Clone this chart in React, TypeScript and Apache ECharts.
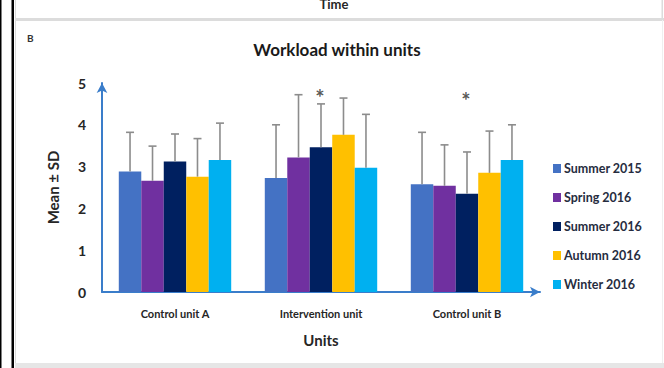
import React, { useEffect, useRef } from "react";
import * as echarts from "echarts";

// Units compared and the survey rounds
const units = ["Control unit A", "Intervention unit", "Control unit B"];
const rounds = ["Summer 2015", "Spring 2016", "Summer 2016", "Autumn 2016", "Winter 2016"];
const roundColors = ["#4472C4", "#7030A0", "#002060", "#FFC000", "#00B0F0"];

// Mean workload per round, one value per unit
const summer2015Mean = [2.88, 2.73, 2.58];
const spring2016Mean = [2.66, 3.22, 2.54];
const summer2016Mean = [3.12, 3.46, 2.35];
const autumn2016Mean = [2.76, 3.76, 2.85];
const winter2016Mean = [3.16, 2.97, 3.16];

// Standard deviation per round, one value per unit
const summer2015SD = [0.94, 1.27, 1.24];
const spring2016SD = [0.83, 1.50, 0.98];
const summer2016SD = [0.66, 1.04, 1.00];
const autumn2016SD = [0.91, 0.88, 1.00];
const winter2016SD = [0.88, 1.28, 0.84];

// Significance markers: unit and the height they sit at
const starUnits = ["Intervention unit", "Control unit B"];
const starLevels = [4.78, 4.71];

const yTicks = [0, 1, 2, 3, 4, 5];

const means = [summer2015Mean, spring2016Mean, summer2016Mean, autumn2016Mean, winter2016Mean];
const sds = [summer2015SD, spring2016SD, summer2016SD, autumn2016SD, winter2016SD];

const FONT = "Lato, 'Open Sans', sans-serif";
const AXIS_BLUE = "#3A7DCA";
const CATEGORY_GAP = 0.23;

export default function App() {
  const ref = useRef<HTMLDivElement>(null);

  useEffect(() => {
    if (!ref.current) return;
    const chart = echarts.init(ref.current, undefined, { renderer: "svg" });

    const barSeries = rounds.map((name, i) => ({
      type: "bar",
      name,
      data: means[i],
      barGap: "0%",
      barCategoryGap: CATEGORY_GAP * 100 + "%",
      itemStyle: { color: roundColors[i] },
      z: 2,
    }));

    const errorSeries = rounds.map((name, i) => ({
      type: "custom",
      name: name + " SD",
      data: units.map((_, j) => [j, means[i][j], sds[i][j]]),
      encode: { x: 0, y: [1, 2] },
      z: 3,
      silent: true,
      renderItem: (params: any, api: any) => {
        const cat = api.value(0);
        const mean = api.value(1);
        const sd = api.value(2);
        const band = api.size([1, 0])[0];
        const barW = (band * (1 - CATEGORY_GAP)) / rounds.length;
        const offset = (i - (rounds.length - 1) / 2) * barW;
        const base = api.coord([cat, mean]);
        const top = api.coord([cat, mean + sd]);
        const x = base[0] + offset;
        const style = { stroke: "#8C8C8C", lineWidth: 1.6 };
        return {
          type: "group",
          children: [
            { type: "line", shape: { x1: x, y1: base[1], x2: x, y2: top[1] }, style },
            { type: "line", shape: { x1: x - 4, y1: top[1], x2: x + 4, y2: top[1] }, style },
          ],
        };
      },
    }));

    const starSeries = {
      type: "scatter",
      name: "significance",
      data: starUnits.map((u, k) => [u, starLevels[k]]),
      symbolSize: 0,
      silent: true,
      z: 4,
      label: {
        show: true,
        position: "inside",
        formatter: "*",
        fontSize: 22,
        fontWeight: "bold",
        color: "#2b2b2b",
        fontFamily: FONT,
        offset: [-1, 5],
      },
    };

    chart.setOption({
      animation: false,
      backgroundColor: "#ffffff",
      title: {
        text: "Workload within units",
        left: 332,
        top: 36,
        textAlign: "center",
        textStyle: { fontFamily: FONT, fontSize: 17, fontWeight: "bold", color: "#1a1a1a" },
      },
      legend: {
        data: rounds,
        orient: "vertical",
        left: 548,
        top: 157,
        icon: "rect",
        itemWidth: 8,
        itemHeight: 9,
        itemGap: 16,
        selectedMode: false,
        textStyle: { fontFamily: FONT, fontSize: 12.5, fontWeight: "bold", color: "#262c40", padding: [0, 0, 0, -2] },
      },
      grid: { left: 102, right: 124, top: 83, bottom: 76 },
      xAxis: {
        type: "category",
        data: units,
        name: "Units",
        nameLocation: "middle",
        nameGap: 40,
        nameTextStyle: { fontFamily: FONT, fontSize: 15, fontWeight: "bold", color: "#262626" },
        axisLine: { show: true, symbol: ["none", "arrow"], symbolSize: [8, 10], lineStyle: { color: AXIS_BLUE, width: 2 } },
        axisTick: { show: false },
        axisLabel: { fontFamily: FONT, fontSize: 11, fontWeight: "bold", color: "#262626", margin: 16 },
      },
      yAxis: {
        type: "value",
        min: 0,
        max: yTicks[yTicks.length - 1],
        interval: 1,
        name: "Mean \u00b1 SD",
        nameLocation: "middle",
        nameGap: 42,
        nameRotate: 90,
        nameTextStyle: { fontFamily: FONT, fontSize: 15, fontWeight: "bold", color: "#262626" },
        axisLine: { show: true, symbol: ["none", "arrow"], symbolSize: [8, 10], lineStyle: { color: AXIS_BLUE, width: 2 } },
        axisTick: { show: false },
        splitLine: { show: false },
        axisLabel: { fontFamily: FONT, fontSize: 14, fontWeight: "bold", color: "#262626", margin: 16 },
      },
      graphic: [
        // page frame around the panel
        { type: "rect", shape: { x: 0, y: 0, width: 1.5, height: 368 }, style: { fill: "#000" } },
        { type: "rect", shape: { x: 11.5, y: 0, width: 2.5, height: 368 }, style: { fill: "#000" } },
        { type: "rect", shape: { x: 15, y: 0, width: 1, height: 368 }, style: { fill: "#d9d9d9" } },
        { type: "rect", shape: { x: 15, y: 18, width: 649, height: 3 }, style: { fill: "#dcdcdc" } },
        { type: "rect", shape: { x: 661.5, y: 0, width: 1.5, height: 20 }, style: { fill: "#dcdcdc" } },
        { type: "rect", shape: { x: 662, y: 20, width: 1, height: 348 }, style: { fill: "#efefef" } },
        { type: "rect", shape: { x: 15, y: 363, width: 649, height: 5 }, style: { fill: "#e6e6e6" } },
        {
          type: "text",
          x: 334,
          y: -3,
          style: { text: "Time", fontFamily: FONT, fontSize: 13, fontWeight: "bold", fill: "#262626", align: "center" },
        },
        {
          type: "text",
          x: 27,
          y: 33,
          style: { text: "B", fontFamily: FONT, fontSize: 10, fontWeight: "bold", fill: "#333", align: "left" },
        },
      ],
      series: [...barSeries, ...errorSeries, starSeries],
    });

    return () => chart.dispose();
  }, []);

  return (
    <div
      ref={ref}
      style={{ position: "absolute", left: 0, top: 0, width: 664, height: 368 }}
    />
  );
}
